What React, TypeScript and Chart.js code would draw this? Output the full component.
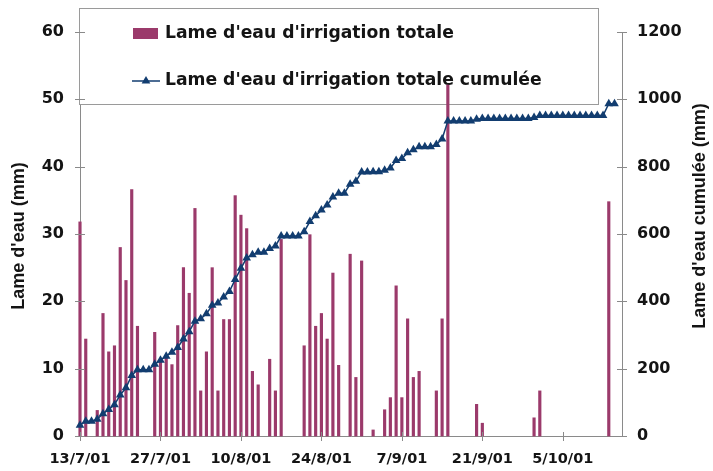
import React, { useEffect, useRef } from 'react';
import { Chart, registerables } from 'chart.js';

Chart.register(...registerables);

// X axis: days since 13/7/01, with labelled ticks every 14 days
const tickDays = [0, 14, 28, 42, 56, 70, 84];
const tickLabels = ['13/7/01', '27/7/01', '10/8/01', '24/8/01', '7/9/01', '21/9/01', '5/10/01'];
const dayCount = 94;

// Daily total irrigation depth (mm), day 0 = 13/7/01
const irrigation = [
  31.8, 14.4, 0, 3.8, 18.2, 12.5, 13.4, 28.0, 23.1, 36.6,
  16.3, 0, 0, 15.4, 11.0, 11.8, 10.6, 16.4, 25.0, 21.2,
  33.8, 6.7, 12.5, 25.0, 6.7, 17.3, 17.3, 35.7, 32.8, 30.8,
  9.6, 7.6, 0, 11.4, 6.7, 29.2, 0, 0, 0, 13.4,
  29.9, 16.3, 18.2, 14.4, 24.2, 10.5, 0, 27.0, 8.7, 26.0,
  0, 0.9, 0, 3.9, 5.7, 22.3, 5.7, 17.4, 8.7, 9.6,
  0, 0, 6.7, 17.4, 52.1, 0, 0, 0, 0, 4.7,
  1.9, 0, 0, 0, 0, 0, 0, 0, 0, 2.7,
  6.7, 0, 0, 0, 0, 0, 0, 0, 0, 0,
  0, 0, 34.8, 0,
];

// Cumulative irrigation depth (mm)
const cumulee = [
  32, 44, 44, 50, 66, 79, 93, 122, 143, 180,
  197, 197, 197, 213, 225, 237, 249, 263, 288, 310,
  341, 348, 363, 388, 395, 413, 429, 465, 498, 529,
  538, 546, 546, 557, 564, 594, 594, 594, 594, 607,
  637, 654, 671, 686, 710, 721, 721, 748, 757, 784,
  784, 785, 785, 789, 796, 818, 824, 841, 850, 859,
  859, 859, 866, 882, 936, 936, 936, 936, 936, 941,
  943, 943, 943, 943, 943, 943, 943, 943, 943, 946,
  952, 952, 952, 952, 952, 952, 952, 952, 952, 952,
  952, 952, 987, 987,
];

const seriesNames = ["Lame d'eau d'irrigation totale", "Lame d'eau d'irrigation totale cumulée"];
const leftTitle = "Lame d'eau (mm)";
const rightTitle = "Lame d'eau cumulée (mm)";
const leftTicks = [0, 10, 20, 30, 40, 50, 60];
const rightTicks = [0, 200, 400, 600, 800, 1000, 1200];

const BAR_COLOR = '#9b3a6b';
const LINE_COLOR = '#123d70';
const AXIS_COLOR = '#8a8a8a';
const TEXT_COLOR = '#141414';
const H_FONT = '"DejaVu Sans", sans-serif';
const V_FONT = '"Liberation Sans", Arial, sans-serif';

function drawTriangle(ctx: CanvasRenderingContext2D, x: number, y: number, r: number) {
  ctx.beginPath();
  for (let k = 0; k < 3; k++) {
    const a = (k * 2 * Math.PI) / 3;
    const px = x + Math.sin(a) * r;
    const py = y - Math.cos(a) * r;
    if (k === 0) ctx.moveTo(px, py);
    else ctx.lineTo(px, py);
  }
  ctx.closePath();
  ctx.fill();
}

const decorPlugin = {
  id: 'decor',
  beforeDatasetsDraw(chart: any) {
    const ctx: CanvasRenderingContext2D = chart.ctx;
    ctx.save();
    // legend box
    ctx.fillStyle = '#ffffff';
    ctx.fillRect(79.5, 8.5, 519, 96);
    ctx.strokeStyle = '#9a9a9a';
    ctx.lineWidth = 1;
    ctx.strokeRect(79.5, 8.5, 519, 96);
    // bar swatch
    ctx.fillStyle = BAR_COLOR;
    ctx.fillRect(133, 28, 25, 11);
    // line swatch
    ctx.strokeStyle = LINE_COLOR;
    ctx.lineWidth = 1.5;
    ctx.beginPath();
    ctx.moveTo(132, 81);
    ctx.lineTo(160, 81);
    ctx.stroke();
    ctx.fillStyle = LINE_COLOR;
    drawTriangle(ctx, 146, 81, 5);
    // legend text
    ctx.fillStyle = TEXT_COLOR;
    ctx.font = `bold 17.2px ${H_FONT}`;
    ctx.textAlign = 'left';
    ctx.textBaseline = 'middle';
    ctx.fillText(seriesNames[0], 165, 34);
    ctx.fillText(seriesNames[1], 165, 81);
    ctx.restore();
  },
  afterDraw(chart: any) {
    const ctx: CanvasRenderingContext2D = chart.ctx;
    const { x, y, y1 } = chart.scales;
    const area = chart.chartArea;
    ctx.save();
    ctx.strokeStyle = AXIS_COLOR;
    ctx.lineWidth = 1;
    ctx.beginPath();
    leftTicks.forEach((v) => {
      const py = Math.round(y.getPixelForValue(v)) + 0.5;
      ctx.moveTo(area.left - 5, py);
      ctx.lineTo(area.left + 5, py);
    });
    rightTicks.forEach((v) => {
      const py = Math.round(y1.getPixelForValue(v)) + 0.5;
      ctx.moveTo(area.right - 5, py);
      ctx.lineTo(area.right + 5, py);
    });
    tickDays.forEach((d) => {
      const px = Math.round(x.getPixelForValue(d)) + 0.5;
      ctx.moveTo(px, area.bottom - 4);
      ctx.lineTo(px, area.bottom + 5);
    });
    ctx.stroke();

    // axis titles (both read bottom-to-top)
    ctx.fillStyle = TEXT_COLOR;
    ctx.font = `bold 18px ${V_FONT}`;
    ctx.textAlign = 'center';
    ctx.textBaseline = 'middle';
    ctx.save();
    ctx.translate(19, 236);
    ctx.rotate(-Math.PI / 2);
    ctx.fillText(leftTitle, 0, 0);
    ctx.restore();
    ctx.save();
    ctx.translate(700, 216);
    ctx.rotate(-Math.PI / 2);
    ctx.fillText(rightTitle, 0, 0);
    ctx.restore();
    ctx.restore();
  },
};

export default function App() {
  const canvasRef = useRef<HTMLCanvasElement | null>(null);

  useEffect(() => {
    if (!canvasRef.current) return;
    const days = Array.from({ length: dayCount }, (_, i) => i);
    const chart = new Chart(canvasRef.current, {
      type: 'bar',
      data: {
        datasets: [
          {
            type: 'line',
            label: seriesNames[1],
            data: days.map((d) => ({ x: d, y: cumulee[d] })),
            yAxisID: 'y1',
            borderColor: LINE_COLOR,
            backgroundColor: LINE_COLOR,
            borderWidth: 1.5,
            pointStyle: 'triangle',
            pointRadius: 5,
            pointBorderWidth: 0,
            pointBackgroundColor: LINE_COLOR,
            tension: 0,
            clip: false,
            order: 0,
          } as any,
          {
            type: 'bar',
            label: seriesNames[0],
            data: days
              .filter((d) => irrigation[d] > 0)
              .map((d) => ({ x: d, y: irrigation[d] })),
            yAxisID: 'y',
            backgroundColor: BAR_COLOR,
            borderWidth: 0,
            barThickness: 2.5,
            clip: false,
            order: 1,
          } as any,
        ],
      },
      options: {
        animation: false,
        responsive: true,
        maintainAspectRatio: false,
        layout: { padding: { top: 32, left: 0, right: 0, bottom: 0 } },
        plugins: {
          legend: { display: false },
          tooltip: { enabled: false },
        },
        scales: {
          x: {
            type: 'linear',
            offset: false,
            min: 0,
            max: 94.3,
            grid: { display: false, drawTicks: false },
            border: { display: true, color: AXIS_COLOR, width: 1 },
            afterBuildTicks: (scale: any) => {
              scale.ticks = tickDays.map((v) => ({ value: v }));
            },
            afterFit: (scale: any) => {
              scale.height = 35;
            },
            ticks: {
              autoSkip: false,
              maxRotation: 0,
              padding: 15,
              color: TEXT_COLOR,
              font: { family: H_FONT, size: 14.5, weight: 'bold' },
              callback: (value: any) => {
                const i = tickDays.indexOf(Number(value));
                return i >= 0 ? tickLabels[i] : '';
              },
            },
          },
          y: {
            type: 'linear',
            position: 'left',
            min: 0,
            max: 60,
            grid: { display: false, drawTicks: false },
            border: { display: true, color: AXIS_COLOR, width: 1 },
            afterBuildTicks: (scale: any) => {
              scale.ticks = leftTicks.map((v) => ({ value: v }));
            },
            afterFit: (scale: any) => {
              scale.width = 80;
            },
            ticks: {
              padding: 16,
              color: TEXT_COLOR,
              font: { family: H_FONT, size: 16, weight: 'bold' },
              callback: (value: any) => String(value),
            },
          },
          y1: {
            type: 'linear',
            position: 'right',
            min: 0,
            max: 1200,
            grid: { display: false, drawTicks: false },
            border: { display: true, color: AXIS_COLOR, width: 1 },
            afterBuildTicks: (scale: any) => {
              scale.ticks = rightTicks.map((v) => ({ value: v }));
            },
            afterFit: (scale: any) => {
              scale.width = 91;
            },
            ticks: {
              padding: 15,
              color: TEXT_COLOR,
              font: { family: H_FONT, size: 16, weight: 'bold' },
              callback: (value: any) => String(value),
            },
          },
        },
      },
      plugins: [decorPlugin],
    });
    return () => chart.destroy();
  }, []);

  return (
    <div style={{ position: 'fixed', left: 0, top: 0, width: 713, height: 471, background: '#ffffff' }}>
      <canvas ref={canvasRef} />
    </div>
  );
}
